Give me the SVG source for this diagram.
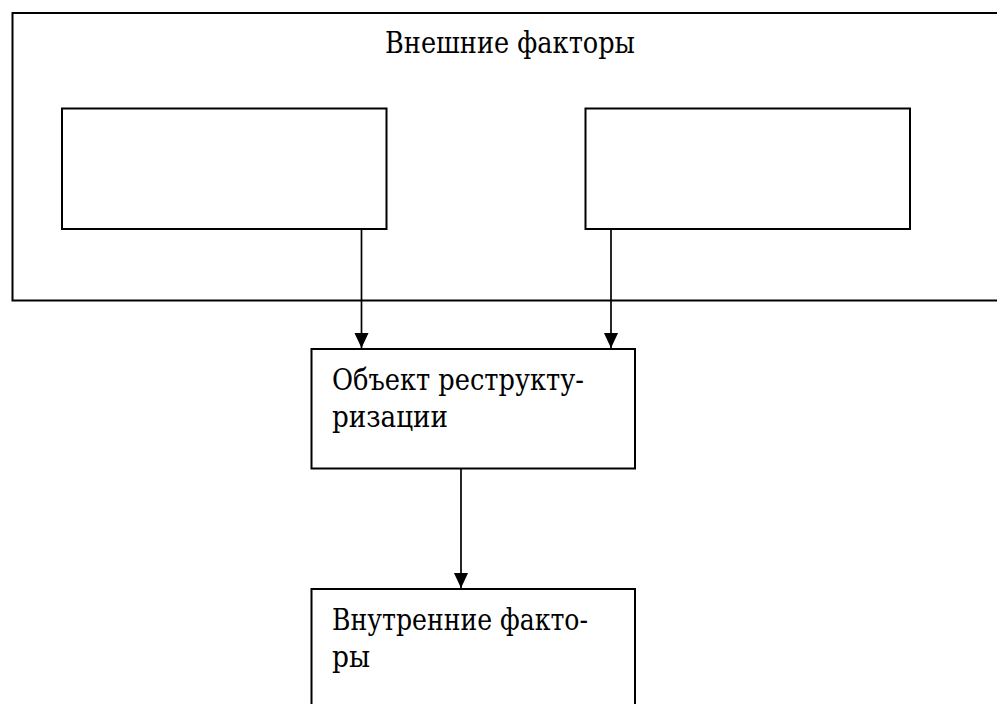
<svg xmlns="http://www.w3.org/2000/svg" width="997" height="704" viewBox="0 0 997 704">
<style>
.box{fill:none;stroke:#000;stroke-width:2}
.ln{stroke:#000;stroke-width:1.7;fill:none}
.t{font-family:'DejaVu Serif','Liberation Serif',serif;font-size:29px;fill:#000}
</style>
<defs>
<marker id="ah" markerWidth="15" markerHeight="17" refX="16" refY="7.5" orient="auto" markerUnits="userSpaceOnUse" viewBox="0 0 16 15">
<path d="M0,0 L16,7.5 L0,15 Z" fill="#000"/>
</marker>
</defs>
<rect width="997" height="704" fill="#fff"/>
<g id="external">
<rect class="box" x="12.5" y="13" width="1000" height="287.5"/>
<text class="t" x="385" y="53" textLength="250" lengthAdjust="spacingAndGlyphs">Внешние факторы</text>
</g>
<g id="ext-left">
<rect class="box" x="62" y="108.5" width="324.5" height="120.5"/>
</g>
<g id="ext-right">
<rect class="box" x="585.5" y="108.5" width="324.5" height="120.5"/>
</g>
<g id="object">
<rect class="box" x="311.5" y="349" width="323.5" height="119.5"/>
<text class="t" x="332" y="390" textLength="252" lengthAdjust="spacingAndGlyphs">Объект реструкту-</text>
<text class="t" x="332" y="427" textLength="116" lengthAdjust="spacingAndGlyphs">ризации</text>
</g>
<g id="internal">
<rect class="box" x="311.5" y="589" width="323.5" height="130"/>
<text class="t" x="332" y="630" textLength="256" lengthAdjust="spacingAndGlyphs">Внутренние факто-</text>
<text class="t" x="332" y="667" textLength="38" lengthAdjust="spacingAndGlyphs">ры</text>
</g>
<g id="connectors">
<line class="ln" x1="361.5" y1="229" x2="361.5" y2="348" marker-end="url(#ah)"/>
<line class="ln" x1="611" y1="229" x2="611" y2="348" marker-end="url(#ah)"/>
<line class="ln" x1="461" y1="469" x2="461" y2="588" marker-end="url(#ah)"/>
</g>
</svg>
